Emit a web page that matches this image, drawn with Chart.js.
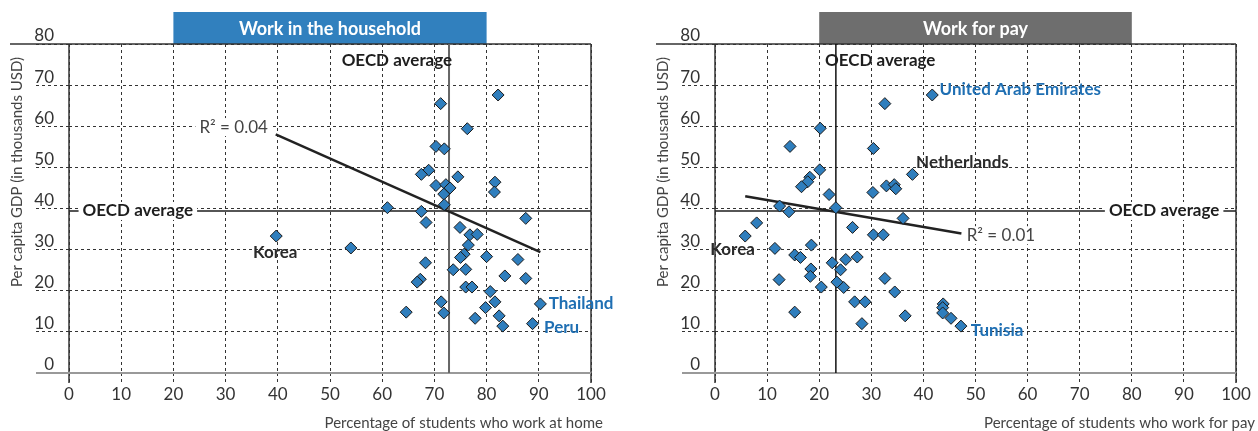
<!DOCTYPE html>
<html>
<head>
<meta charset="utf-8">
<script src="https://cdn.jsdelivr.net/npm/chart.js@4.4.1/dist/chart.umd.min.js"></script>
<style>
  body { margin: 0; background: #fff; }
  #wrap { position: relative; width: 1258px; height: 431px; }
  canvas { position: absolute; top: 0; }
</style>
</head>
<body>
<div id="wrap">
  <canvas id="chart-home" width="629" height="431" style="left:0"></canvas>
  <canvas id="chart-pay" width="629" height="431" style="left:629px"></canvas>
</div>
<script>
// --- data ---
const homeX = [82.2, 71.2, 76.3, 70.3, 71.9, 68.9, 67.5, 74.5, 81.6, 70.3, 72.2, 73.0, 81.5, 71.8, 71.9, 61.0, 67.5,
  87.5, 68.4, 74.9, 76.8, 78.2, 39.7, 76.5, 54.0, 75.7, 75.0, 80.0, 86.0, 68.3, 73.6, 76.0, 83.5, 87.5, 67.3, 66.7,
  76.0, 77.2, 80.7, 71.3, 81.6, 90.3, 79.8, 64.6, 71.8, 82.4, 77.8, 88.8, 83.1];
const homeY = [67.6, 65.5, 59.4, 55.1, 54.5, 49.3, 48.3, 47.7, 46.4, 45.6, 45.8, 45.0, 44.0, 43.5, 40.9, 40.2, 39.3,
  37.6, 36.6, 35.4, 33.6, 33.7, 33.3, 31.1, 30.4, 28.9, 28.1, 28.3, 27.6, 26.8, 25.1, 25.2, 23.6, 23.0, 22.8, 22.1,
  20.9, 20.9, 19.8, 17.3, 17.3, 16.8, 15.9, 14.8, 14.6, 13.9, 13.3, 12.0, 11.4];

const payX = [41.7, 32.6, 20.2, 14.4, 30.4, 20.1, 37.9, 18.2, 17.8, 16.6, 32.9, 34.4, 34.7, 30.3, 21.9, 12.4, 23.2,
  14.2, 36.1, 8.0, 26.4, 5.8, 30.4, 32.3, 18.5, 11.5, 15.3, 16.4, 27.3, 25.1, 22.5, 18.4, 24.1, 18.3, 32.6, 12.3,
  23.4, 20.4, 24.7, 34.5, 26.8, 28.8, 43.8, 43.7, 43.7, 15.3, 36.5, 45.3, 28.2, 47.2];
const payY = [67.6, 65.5, 59.5, 55.1, 54.6, 49.4, 48.3, 47.6, 46.5, 45.3, 45.5, 45.8, 44.8, 43.9, 43.4, 40.6, 40.2,
  39.2, 37.6, 36.5, 35.4, 33.3, 33.6, 33.6, 31.1, 30.3, 28.7, 28.1, 28.2, 27.6, 26.8, 25.3, 25.1, 23.5, 23.0, 22.7,
  22.1, 20.9, 20.8, 19.7, 17.3, 17.3, 16.8, 15.9, 14.6, 14.8, 13.9, 13.3, 12.0, 11.4];

// trend lines (end points) and OECD averages
const homeFitX = [39.6, 90.3];
const homeFitY = [58.0, 29.4];
const payFitX = [5.8, 47.3];
const payFitY = [43.0, 33.9];
const oecdGdp = 39.4;
const oecdHome = 72.8;
const oecdPay = 23.2;

const blue = "#2f7ebd";
const blueText = "#1f6fb3";
const dark = "#1e1e1e";

Chart.defaults.font.family = "Lato, 'Noto Sans', sans-serif";
Chart.defaults.color = "#333";

function pts(xs, ys) {
  return xs.map((x, i) => ({ x: x, y: ys[i] }));
}

function line(ctx, x1, y1, x2, y2) {
  ctx.beginPath();
  ctx.moveTo(x1, y1);
  ctx.lineTo(x2, y2);
  ctx.stroke();
}

const panelPlugin = {
  id: "panel",
  beforeDatasetsDraw(chart, args, o) {
    const ctx = chart.ctx, a = chart.chartArea;
    const sx = chart.scales.x, sy = chart.scales.y;
    ctx.save();
    // title bar
    const b1 = sx.getPixelForValue(20), b2 = sx.getPixelForValue(80);
    ctx.fillStyle = o.barColor;
    ctx.fillRect(b1, 12, b2 - b1, a.top - 12);
    // frame
    ctx.setLineDash([]);
    ctx.strokeStyle = "#333";
    ctx.lineWidth = 1.5;
    line(ctx, a.left - 59, a.top, a.right, a.top);
    line(ctx, a.right, a.top, a.right, a.bottom + 10);
    line(ctx, a.left, a.top, a.left, a.bottom + 10);
    ctx.strokeStyle = "#999";
    ctx.lineWidth = 2;
    line(ctx, a.left - 33, a.bottom, a.right, a.bottom);
    // OECD averages
    const ox = sx.getPixelForValue(o.oecdX), oy = sy.getPixelForValue(oecdGdp);
    ctx.strokeStyle = dark;
    ctx.lineWidth = 1.5;
    line(ctx, a.left, oy, a.right, oy);
    ctx.strokeStyle = o.vColor;
    ctx.lineWidth = o.vWidth;
    line(ctx, ox, a.top, ox, a.bottom);
    ctx.restore();
  },
  afterDatasetsDraw(chart, args, o) {
    const ctx = chart.ctx, a = chart.chartArea;
    const sx = chart.scales.x, sy = chart.scales.y;
    ctx.save();
    ctx.textBaseline = "middle";
    // title text
    ctx.fillStyle = "#fff";
    ctx.font = "bold 18px Lato";
    ctx.textAlign = "center";
    ctx.fillText(o.title, (sx.getPixelForValue(20) + sx.getPixelForValue(80)) / 2, (12 + a.top) / 2 + 1);
    // axis titles
    ctx.fillStyle = "#444";
    ctx.font = "15px Lato";
    ctx.textAlign = "right";
    ctx.fillText(o.xTitle, a.right + o.xTitleShift, 423);
    ctx.save();
    ctx.translate(a.left - 52, 172);
    ctx.rotate(-Math.PI / 2);
    ctx.textAlign = "center";
    ctx.fillText("Per capita GDP (in thousands USD)", 0, 0);
    ctx.restore();
    // labels
    o.labels.forEach(l => {
      ctx.font = (l.bold ? "bold " : "") + "17px Lato";
      ctx.textAlign = l.align;
      const px = sx.getPixelForValue(l.x), py = sy.getPixelForValue(l.y);
      if (l.bg) {
        const w = ctx.measureText(l.text).width;
        let x0 = l.align === "right" ? px - w : l.align === "center" ? px - w / 2 : px;
        ctx.fillStyle = "#fff";
        ctx.fillRect(x0 - 4, py - 9, w + 8, 18);
      }
      ctx.fillStyle = l.color;
      ctx.fillText(l.text, px, py);
    });
    ctx.restore();
  }
};

function makeChart(id, xs, ys, fx, fy, panel, yWidth, rightPad) {
  return new Chart(document.getElementById(id), {
    type: "scatter",
    data: {
      datasets: [
        {
          data: pts(xs, ys),
          pointStyle: "rectRot",
          pointRadius: 6,
          backgroundColor: blue,
          borderColor: "#1a1a1a",
          borderWidth: 1,
          order: 1,
        },
        {
          type: "line",
          data: pts(fx, fy),
          borderColor: "#222",
          borderWidth: 2.5,
          pointRadius: 0,
          order: 2,
        },
      ],
    },
    options: {
      responsive: false,
      animation: false,
      devicePixelRatio: 1,
      layout: { padding: { top: 44, right: rightPad, left: 0, bottom: 0 } },
      plugins: {
        legend: { display: false },
        tooltip: { enabled: false },
        panel: panel,
      },
      scales: {
        x: {
          type: "linear",
          min: 0,
          max: 100,
          afterFit(s) { s.height = 58; },
          ticks: { stepSize: 10, padding: 1, color: "#333", font: { size: 17 } },
          grid: { color: "#333", lineWidth: 1, tickLength: 10, tickColor: "#333", tickBorderDash: [3, 3] },
          border: { display: false, dash: [3, 3] },
        },
        y: {
          min: 0,
          max: 80,
          afterFit(s) { s.width = yWidth; },
          ticks: { stepSize: 10, padding: -18, labelOffset: -8, color: "#333", font: { size: 17 } },
          grid: { color: "#333", lineWidth: 1, tickLength: 33, tickColor: "#333", tickBorderDash: [3, 3] },
          border: { display: false, dash: [3, 3] },
        },
      },
    },
    plugins: [panelPlugin],
  });
}

makeChart("chart-home", homeX, homeY, homeFitX, homeFitY, {
  title: "Work in the household",
  barColor: "#3180be",
  oecdX: oecdHome,
  vColor: "#666",
  vWidth: 2,
  xTitle: "Percentage of students who work at home",
  xTitleShift: 12,
  labels: [
    { text: "OECD average", x: 73.4, y: 76.1, align: "right", bold: true, color: dark },
    { text: "OECD average", x: 2.6, y: oecdGdp, align: "left", bold: true, color: dark, bg: true },
    { text: "R\u00b2 = 0.04", x: 38.1, y: 59.8, align: "right", color: "#444", bg: true },
    { text: "Korea", x: 39.5, y: 29.2, align: "center", bold: true, color: "#2b2b2b" },
    { text: "Thailand", x: 91.9, y: 16.9, align: "left", bold: true, color: blueText },
    { text: "Peru", x: 91.0, y: 11.1, align: "left", bold: true, color: blueText },
  ],
}, 69, 38);

makeChart("chart-pay", payX, payY, payFitX, payFitY, {
  title: "Work for pay",
  barColor: "#6e6e6e",
  oecdX: oecdPay,
  vColor: "#111",
  vWidth: 1.5,
  xTitle: "Percentage of students who work for pay",
  xTitleShift: 19,
  labels: [
    { text: "OECD average", x: 21.1, y: 76.1, align: "left", bold: true, color: dark },
    { text: "OECD average", x: 75.6, y: oecdGdp, align: "left", bold: true, color: dark, bg: true },
    { text: "R\u00b2 = 0.01", x: 48.3, y: 33.5, align: "left", color: "#444", bg: true },
    { text: "United Arab Emirates", x: 43.1, y: 68.9, align: "left", bold: true, color: blueText },
    { text: "Netherlands", x: 38.6, y: 51.3, align: "left", bold: true, color: "#2b2b2b" },
    { text: "Korea", x: -0.9, y: 30.0, align: "left", bold: true, color: "#2b2b2b" },
    { text: "Tunisia", x: 49.1, y: 10.4, align: "left", bold: true, color: blueText },
  ],
}, 86, 22);
</script>
</body>
</html>
